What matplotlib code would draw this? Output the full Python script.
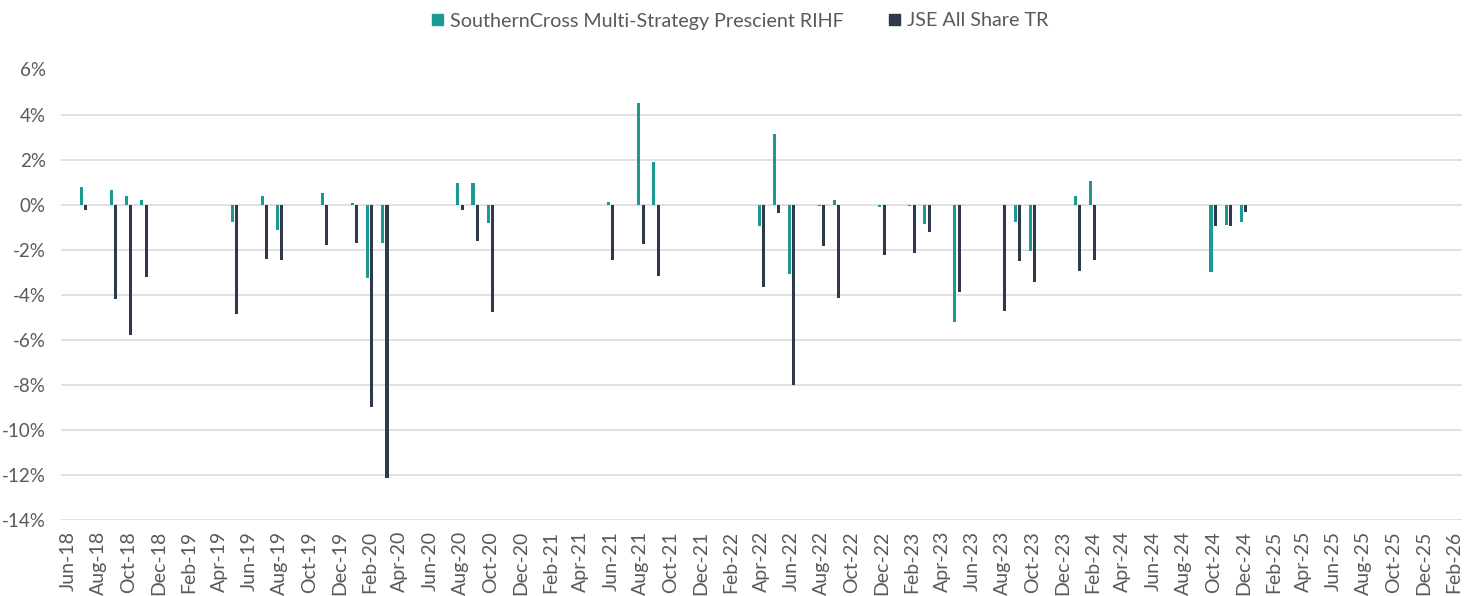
import matplotlib
matplotlib.use("Agg")
import matplotlib.pyplot as plt
from matplotlib.patches import Patch
import numpy as np
import pandas as pd

# monthly returns (%) for the months the JSE fell
data_months = ["Jul-18", "Sep-18", "Oct-18", "Nov-18", "May-19", "Jul-19", "Aug-19",
               "Nov-19", "Jan-20", "Feb-20", "Mar-20", "Aug-20", "Sep-20", "Oct-20",
               "Jun-21", "Aug-21", "Sep-21", "Apr-22", "May-22", "Jun-22", "Aug-22",
               "Sep-22", "Dec-22", "Feb-23", "Mar-23", "May-23", "Aug-23", "Sep-23",
               "Oct-23", "Jan-24", "Feb-24", "Oct-24", "Nov-24", "Dec-24"]
fund = [0.77, 0.65, 0.39, 0.22, -0.79, 0.39, -1.11,
        0.50, 0.06, -3.27, -1.70, 0.95, 0.95, -0.81,
        0.10, 4.50, 1.91, -0.97, 3.13, -3.08, -0.04,
        0.21, -0.10, -0.05, -0.86, -5.23, 0.0, -0.79,
        -2.04, 0.37, 1.04, -3.00, -0.89, -0.79]
jse = [-0.24, -4.19, -5.79, -3.19, -4.86, -2.40, -2.44,
       -1.78, -1.70, -9.00, -12.12, -0.24, -1.60, -4.76,
       -2.44, -1.75, -3.16, -3.67, -0.36, -7.99, -1.83,
       -4.13, -2.22, -2.16, -1.20, -3.88, -4.73, -2.52,
       -3.42, -2.93, -2.44, -0.93, -0.96, -0.31]

fund_name = "SouthernCross Multi-Strategy Prescient RIHF"
jse_name = "JSE All Share TR"

axis_months = pd.date_range("2018-06-01", "2026-02-01", freq="MS").strftime("%b-%y").tolist()

teal = "#1a9a93"
navy = "#2e3a4c"
grey_txt = "#595959"

plt.rcParams["font.family"] = ["Lato", "DejaVu Sans"]

fig = plt.figure(figsize=(14.8, 5.96), dpi=100)
ax = fig.add_axes([61 / 1480, 1 - 520 / 596, 1400.7 / 1480, 450.5 / 596])

pos = {m: i for i, m in enumerate(axis_months)}
x = np.array([pos[m] for m in data_months])
w = 0.2
ax.bar(x - 0.145, fund, width=w, color=teal, zorder=3)
ax.bar(x + 0.145, jse, width=w, color=navy, zorder=3)

ax.set_xlim(-0.5, len(axis_months) - 0.5)
ax.set_ylim(-14, 6)
ax.set_yticks(np.arange(-14, 7, 2))
ax.set_yticklabels([f"{v}%" for v in range(-14, 7, 2)])
ax.set_xticks(range(0, len(axis_months), 2))
ax.set_xticklabels(axis_months[::2], rotation=90)

ax.grid(axis="y", color="#d9d9d9", linewidth=1.1, zorder=0)
for s in ax.spines.values():
    s.set_visible(False)
ax.tick_params(axis="both", length=0, colors=grey_txt, labelsize=14)
ax.tick_params(axis="y", pad=11, labelsize=13.5)
ax.tick_params(axis="x", pad=8)

handles = [Patch(color=teal), Patch(color=navy)]
fig.legend(handles, [fund_name, jse_name], loc="center", bbox_to_anchor=(0.5, 1 - 21 / 596),
           ncol=2, frameon=False, fontsize=14.2, handlelength=0.55, handleheight=0.55,
           handletextpad=0.35, columnspacing=2.3, labelcolor=grey_txt)

fig.savefig("out.png", dpi=100, facecolor="white")
